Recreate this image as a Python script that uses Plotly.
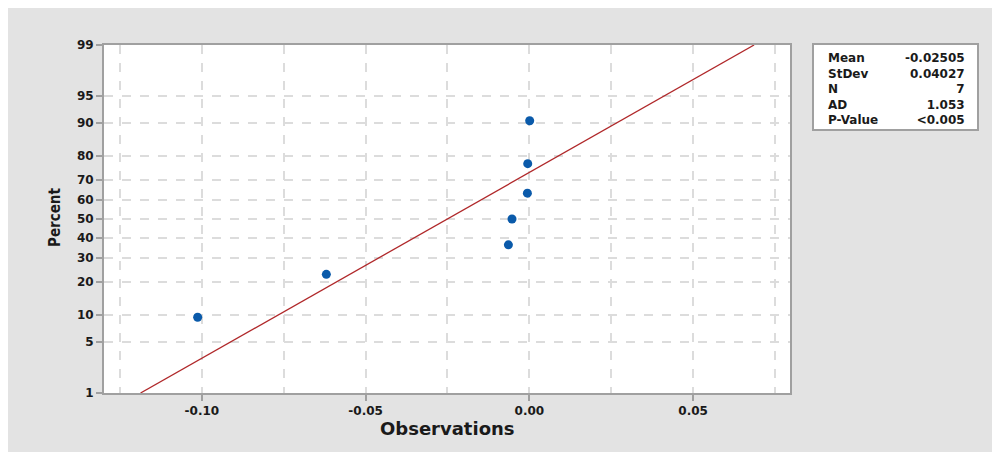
import plotly.graph_objects as go
from statistics import NormalDist

# Observations (sorted)
observations = [-0.1013, -0.0620, -0.0064, -0.0053, -0.0006, -0.0005, 0.0001]
n_obs = len(observations)
# Median-rank plotting positions (percent)
percent = [100 * (i + 1 - 0.3) / (n_obs + 0.4) for i in range(n_obs)]

stat_labels = ["Mean", "StDev", "N", "AD", "P-Value"]
stat_values = ["-0.02505", "0.04027", "7", "1.053", "<0.005"]
fit_mean = -0.02505
fit_sd = 0.04027

y_tick_percent = [1, 5, 10, 20, 30, 40, 50, 60, 70, 80, 90, 95, 99]
x_tick_vals = [-0.10, -0.05, 0.00, 0.05]
x_tick_text = ["-0.10", "-0.05", "0.00", "0.05"]

nd = NormalDist()
def z(p):
    return nd.inv_cdf(p / 100.0)

ymin, ymax = z(1), z(99)
fit_z = [ymin, ymax]
fit_x = [fit_mean + fit_sd * v for v in fit_z]

fig = go.Figure()
fig.add_trace(go.Scatter(x=fit_x, y=fit_z, mode="lines",
                         line=dict(color="#b0282a", width=1.3),
                         hoverinfo="skip", showlegend=False))
fig.add_trace(go.Scatter(x=observations, y=[z(p) for p in percent], mode="markers",
                         marker=dict(color="#0a5aaa", size=9, symbol="circle"),
                         showlegend=False))

# page body has an 8px margin; work in reference pixel coordinates
OFF = 8
W, H = 1000 - OFF, 452 - OFF
L, R, T, B = 104 - OFF, 790 - OFF, 45 - OFF, 393 - OFF
pw, ph = R - L, B - T
def fx(px):
    return (px - OFF - L) / pw
def fy(py):
    return (B - (py - OFF)) / ph

shapes = [
    dict(type="rect", xref="paper", yref="paper", layer="below",
         x0=fx(7), x1=fx(998), y0=fy(6), y1=fy(470),
         fillcolor="#e3e3e3", line=dict(width=0)),
    dict(type="rect", xref="paper", yref="paper", layer="below",
         x0=0, x1=1, y0=0, y1=1, fillcolor="white", line=dict(width=0)),
    dict(type="rect", xref="paper", yref="paper", layer="above",
         x0=fx(813), x1=fx(978), y0=fy(130), y1=fy(44),
         fillcolor="white", line=dict(color="#a0a0a0", width=2)),
]

FONT = "DejaVu Sans, Open Sans, sans-serif"
tick_font = dict(family=FONT, size=12, color="#1a1a1a", weight=700)
stat_font = dict(family=FONT, size=12, color="#1a1a1a", weight=700)

annotations = [
    dict(xref="paper", yref="paper", x=fx(826), y=fy(49), text="<br>".join(stat_labels),
         showarrow=False, xanchor="left", yanchor="top", align="left", font=stat_font),
    dict(xref="paper", yref="paper", x=fx(967), y=fy(49), text="<br>".join(stat_values),
         showarrow=False, xanchor="right", yanchor="top", align="right", font=stat_font),
    dict(xref="paper", yref="paper", x=fx(447), y=fy(428), text="Observations",
         showarrow=False, xanchor="center", yanchor="middle",
         font=dict(family=FONT, size=18, color="#1a1a1a", weight=700)),
    dict(xref="paper", yref="paper", x=fx(55), y=fy(218), text="Percent", textangle=-90,
         showarrow=False, xanchor="center", yanchor="middle",
         font=dict(family="DejaVu Sans Condensed, DejaVu Sans, sans-serif", size=15,
                   color="#1a1a1a", weight=700)),
]

fig.update_layout(
    width=W, height=H,
    margin=dict(l=L, r=W - R, t=T, b=H - B),
    paper_bgcolor="white",
    plot_bgcolor="rgba(0,0,0,0)",
    shapes=shapes,
    annotations=annotations,
    showlegend=False,
    xaxis=dict(
        range=[-0.1299, 0.0796],
        tickvals=x_tick_vals, ticktext=x_tick_text,
        ticks="outside", ticklen=6, tickcolor="#a0a0a0", tickwidth=2,
        showline=True, linecolor="#a0a0a0", linewidth=2, mirror=True,
        showgrid=True, gridcolor="#dcdcdc", gridwidth=1.5, griddash="dash",
        minor=dict(tick0=0, dtick=0.025, showgrid=True, gridcolor="#dcdcdc",
                   gridwidth=1.5, griddash="dash", ticks=""),
        tickfont=tick_font, zeroline=False,
    ),
    yaxis=dict(
        range=[ymin, ymax],
        tickvals=[z(p) for p in y_tick_percent],
        ticktext=[str(p) for p in y_tick_percent],
        ticks="outside", ticklen=6, tickcolor="#a0a0a0", tickwidth=2,
        showline=True, linecolor="#a0a0a0", linewidth=2, mirror=True,
        showgrid=True, gridcolor="#dcdcdc", gridwidth=1.5, griddash="dash",
        tickfont=tick_font, zeroline=False,
    ),
)

fig.write_html("out.html")
